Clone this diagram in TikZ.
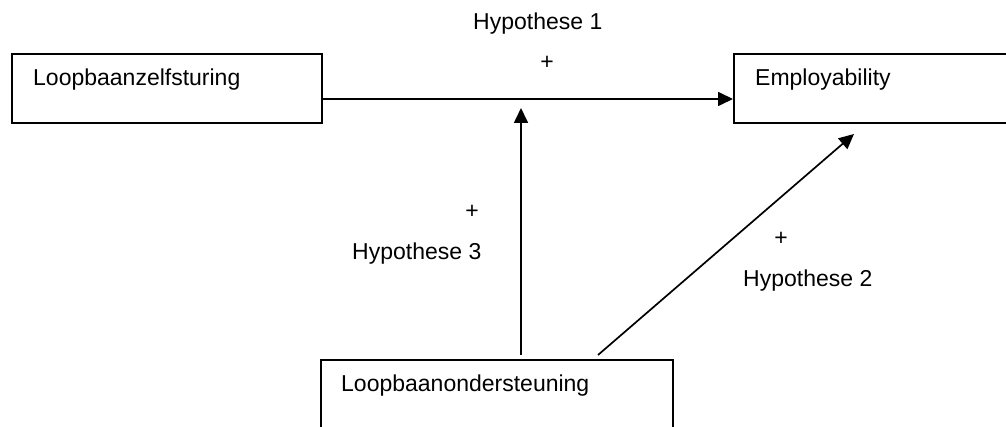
\documentclass[tikz,border=0pt]{standalone}
\usepackage{fontspec}
\setmainfont{Liberation Sans}
\usetikzlibrary{arrows.meta,calc}
\tikzset{
  box/.style={draw, line width=2pt, rectangle, inner sep=0pt, anchor=north west},
  lbl/.style={inner sep=0pt, anchor=base west, font=\fontsize{23}{27}\selectfont},
  sign/.style={inner sep=0pt, anchor=center, font=\fontsize{23}{27}\selectfont},
  arr/.style={line width=1.7pt, -{Triangle[length=15pt,width=14pt]}},
  link/.style={line width=1.7pt}
}
\begin{document}
\begin{tikzpicture}[x=1pt,y=-1pt]
\useasboundingbox (0,0) rectangle (1006,427);
\clip (0,0) rectangle (1006,427);

% boxes
\node[box, minimum width=310pt, minimum height=69pt] (zelf) at (11,53) {};
\node[box, minimum width=290pt, minimum height=69pt] (emp) at (733,53) {};
\node[box, minimum width=352pt, minimum height=90pt] (sup) at (320,359) {};

% box texts
\node[lbl] (tzelf) at (33,86) {Loopbaanzelfsturing};
\node[lbl] (temp) at (755,86) {Employability};
\node[lbl] (tsup) at (341,391) {Loopbaanondersteuning};

% connector end points
\coordinate (h1a) at ($(zelf.north east)+(0,46)$);
\coordinate (h1b) at (emp.west |- h1a);
\coordinate (h3a) at (521,355);
\coordinate (h3b) at (521,108);
\coordinate (h2a) at (598,355);
\coordinate (h2b) at (854,134);

% connectors
\draw[arr] (h1a) -- (h1b);
\draw[arr] (h3a) -- (h3b);
\draw[arr] (h2a) -- (h2b);

% hypothesis labels
\node[lbl] (hyp1) at (473,30) {Hypothese 1};
\node[sign] (p1) at (547,63) {+};
\node[sign] (p3) at (472,212) {+};
\node[lbl] (hyp3) at (352,260) {Hypothese 3};
\node[sign] (p2) at (781,239) {+};
\node[lbl] (hyp2) at (743,287) {Hypothese 2};
\end{tikzpicture}
\end{document}
